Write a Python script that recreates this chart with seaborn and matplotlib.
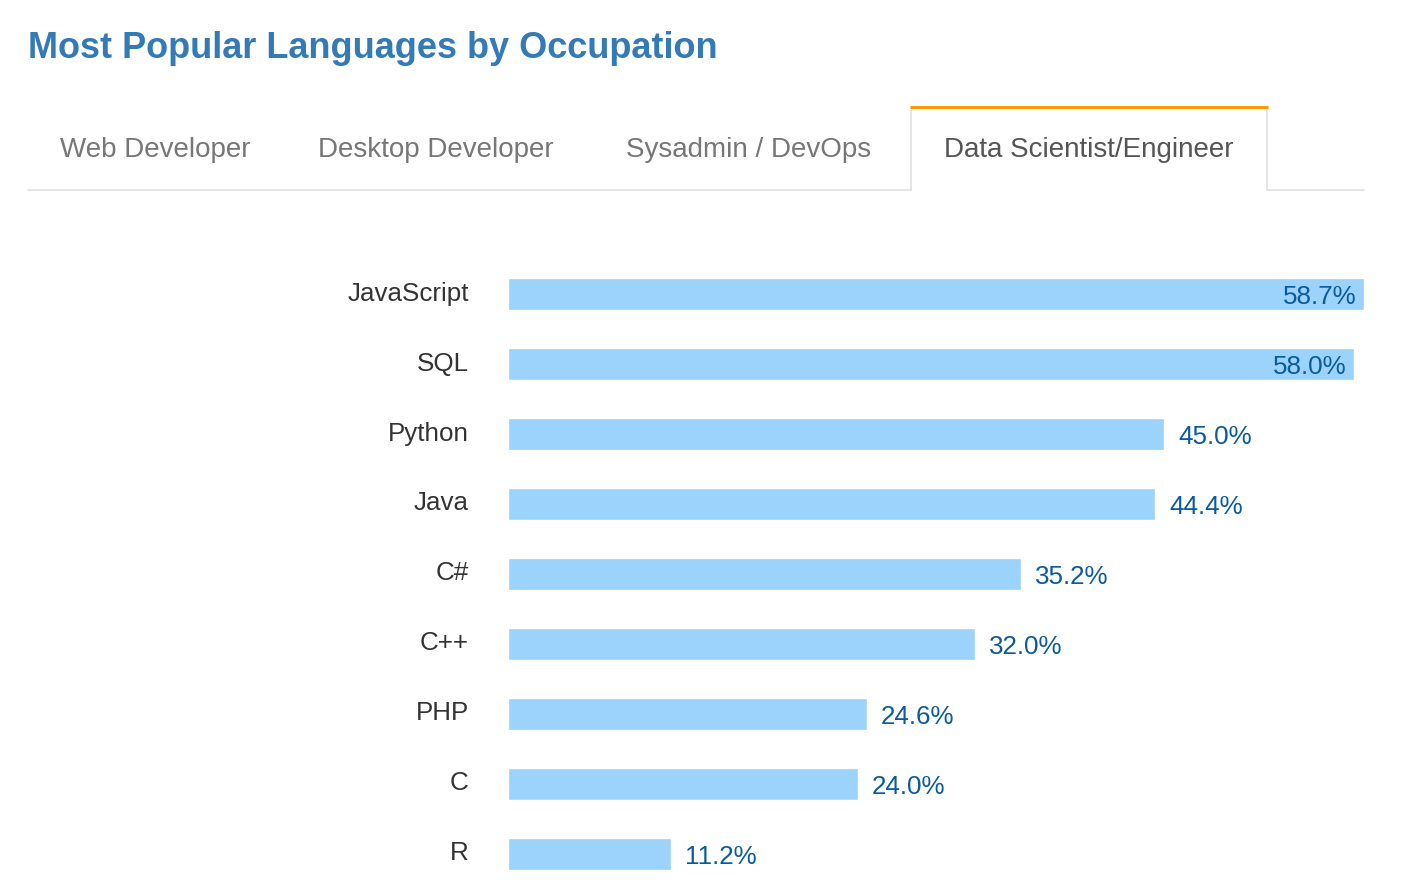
import matplotlib
matplotlib.use("Agg")
import matplotlib.pyplot as plt
from matplotlib.lines import Line2D
from matplotlib.transforms import ScaledTranslation
import seaborn as sns
import pandas as pd

# ---- data ----
title = "Most Popular Languages by Occupation"
tabs = ["Web Developer", "Desktop Developer", "Sysadmin / DevOps", "Data Scientist/Engineer"]
active_tab = "Data Scientist/Engineer"
languages = ["JavaScript", "SQL", "Python", "Java", "C#", "C++", "PHP", "C", "R"]
percent = [58.7, 58.0, 45.0, 44.4, 35.2, 32.0, 24.6, 24.0, 11.2]

df = pd.DataFrame({"language": languages, "percent": percent})

sns.set_style("white")
plt.rcParams["font.family"] = ["Liberation Sans", "DejaVu Sans"]

W, H = 1422, 892
fig = plt.figure(figsize=(W / 100, H / 100), dpi=100)

def fx(x):
    return x / W

def fy(y):
    return 1 - y / H

# axes placement (pixels): left 508, right 1364, top 259, bottom 889
ax = fig.add_axes([fx(508), fy(889), fx(1364) - fx(508), fy(259) - fy(889)])

bar_color = "#9bd3fc"
sns.barplot(data=df, x="percent", y="language", orient="h", color=bar_color,
            width=0.457, saturation=1, ax=ax)

ax.set_xlim(0, max(percent))
ax.set_ylim(len(languages) - 0.5, -0.5)
ax.set_xlabel("")
ax.set_ylabel("")
ax.set_xticks([])
for s in ax.spines.values():
    s.set_visible(False)
ax.tick_params(axis="y", length=0, pad=28.2, labelsize=18.7, labelcolor="#333333")
shift = ScaledTranslation(0, 3 / 100, fig.dpi_scale_trans)
for lab in ax.get_yticklabels():
    lab.set_transform(lab.get_transform() + shift)

label_color = "#0a5a9c"
max_v = max(percent)
for i, v in enumerate(percent):
    inside = v > 0.9 * max_v
    if inside:
        ax.annotate(f"{v:.1f}%", xy=(v, i), xytext=(-5, 0), textcoords="offset points",
                    ha="right", va="center_baseline", fontsize=18.7, color=label_color)
    else:
        ax.annotate(f"{v:.1f}%", xy=(v, i), xytext=(10, 0), textcoords="offset points",
                    ha="left", va="center_baseline", fontsize=18.7, color=label_color)

# ---- title ----
fig.text(fx(28), fy(58), title, fontsize=26, fontweight="bold", color="#337ab7",
         ha="left", va="baseline")

# ---- tabs ----
tab_x = [60, 318, 626, 944]
for name, x in zip(tabs, tab_x):
    col = "#555555" if name == active_tab else "#777777"
    fig.text(fx(x), fy(157), name, fontsize=20, color=col, ha="left", va="baseline")

border = "#dddddd"
lw_px = 0.72
fig.add_artist(Line2D([fx(28), fx(911)], [fy(190), fy(190)], color=border,
                      lw=1.5 * lw_px, transform=fig.transFigure))
fig.add_artist(Line2D([fx(1267), fx(1364)], [fy(190), fy(190)], color=border,
                      lw=1.5 * lw_px, transform=fig.transFigure))
fig.add_artist(Line2D([fx(911), fx(911)], [fy(108), fy(190)], color=border,
                      lw=1.5 * lw_px, transform=fig.transFigure))
fig.add_artist(Line2D([fx(1267), fx(1267)], [fy(108), fy(190)], color=border,
                      lw=1.5 * lw_px, transform=fig.transFigure))
fig.add_artist(Line2D([fx(910), fx(1268)], [fy(107), fy(107)], color="#f89a00",
                      lw=3 * lw_px, transform=fig.transFigure, solid_capstyle="butt"))

fig.savefig("out.png", dpi=100)
